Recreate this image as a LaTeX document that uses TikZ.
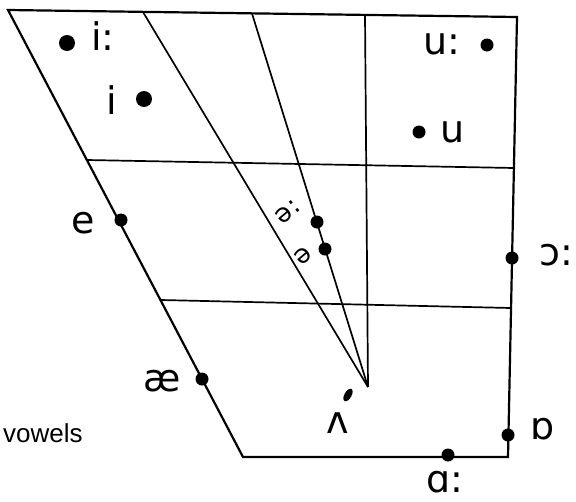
\documentclass[tikz,border=0pt]{standalone}
\usepackage{fontspec}
\setmainfont{DejaVu Sans}
\newfontfamily\plainsans{Liberation Sans}
\begin{document}
\begin{tikzpicture}[x=1pt,y=-1pt,
  frame/.style={line width=2.2pt, line join=miter},
  guide/.style={line width=1.7pt},
  dot/.style={circle, fill=black, inner sep=0pt, minimum size=13pt},
  bigdot/.style={dot, minimum size=16pt},
  lab/.style={font=\fontsize{38}{38}\selectfont, inner sep=0pt},
  smalllab/.style={font=\fontsize{26}{26}\selectfont, inner sep=0pt}]
\useasboundingbox (0,0) rectangle (576,501);
% corners
\coordinate (TL) at (8,10);
\coordinate (TR) at (517,17);
\coordinate (BR) at (508,457);
\coordinate (BL) at (243,457);
\coordinate (H1L) at (87,160);
\coordinate (H1R) at (514,168);
\coordinate (H2L) at (161,300);
\coordinate (H2R) at (511,308);
\coordinate (D1) at (143,12);
\coordinate (D2) at (252,13.5);
\coordinate (V) at (365,15);
\coordinate (A) at (368,387);
% grid
\draw[frame] (TL) -- (TR) -- (BR) -- (BL) -- cycle;
\draw[guide] (H1L) -- (H1R);
\draw[guide] (H2L) -- (H2R);
\draw[guide] (D1) -- (A);
\draw[guide] (D2) -- (A);
\draw[guide] (V) -- (A);
% dots
\node[bigdot] (ilong) at (67,43) {};
\node[bigdot] (ishort) at (144,99) {};
\node[dot] (ulong) at (487,45) {};
\node[dot] (ushort) at (419,132) {};
\node[dot] (e) at (121,220) {};
\node[dot] (ae) at (202,379) {};
\node[dot] (schwalong) at (317,222) {};
\node[dot] (schwa) at (325,249) {};
\node[dot] (openo) at (512,258) {};
\node[dot] (turneda) at (508,435) {};
\node[dot] (alpha) at (448,455) {};
\fill[rotate around={-30:(348,395)}] (348,395) ellipse (3.5pt and 7pt);
% labels
\node[lab] (Lilong) at (103,36) {i:};
\node[lab] (Lishort) at (112,100) {i};
\node[lab] (Lulong) at (442,44) {u:};
\node[lab] (Lushort) at (453,132) {u};
\node[lab] (Le) at (83,223) {e};
\node[lab] (Lae) at (162,381) {æ};
\node[smalllab, rotate=40] (Lschwalong) at (288,212) {ə\kern1pt:};
\node[smalllab, rotate=40] (Lschwa) at (303,256) {ə};
\node[lab] (Lopeno) at (556,255) {ɔ:};
\node[lab] (Lturneda) at (543,429) {ɒ};
\node[lab, anchor=base, text depth=0pt] (Lalpha) at (445,492) {ɑ:};
\node[lab] (Lwedge) at (338,423) {ʌ};
\node[font=\plainsans\fontsize{26}{26}\selectfont, inner sep=0pt, anchor=west] (vowels) at (3,433) {vowels};
\end{tikzpicture}
\end{document}
